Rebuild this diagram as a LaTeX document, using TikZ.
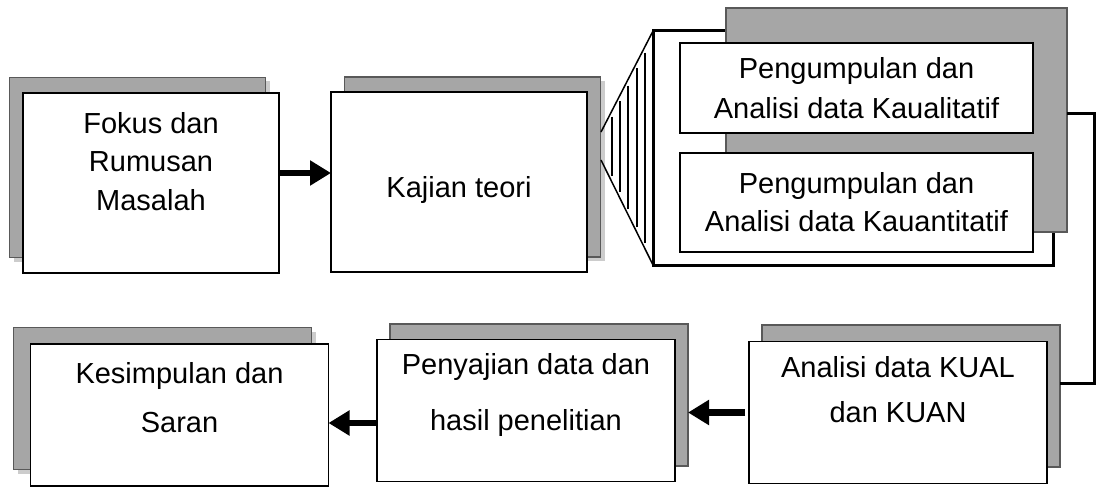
\documentclass[tikz,border=0pt]{standalone}
\usepackage{fontspec}
\setmainfont{Liberation Sans}
\usetikzlibrary{positioning,arrows.meta,calc}

\begin{document}
\begin{tikzpicture}[x=1pt, y=-1pt,
  box/.style={draw, fill=white, line width=1.6pt, inner sep=0pt, outer sep=0pt, align=center, font=\fontsize{29}{39}\selectfont},
  shd/.style={draw=black!65, fill=black!35, line width=1.3pt, inner sep=0pt, outer sep=0pt},
  lite/.style={fill=black!20, inner sep=0pt, outer sep=0pt},
  lbl/.style={inner sep=0pt, align=center, font=\fontsize{29}{#1}\selectfont},
  big/.style={minimum width=256pt, minimum height=180pt},
  wide/.style={minimum width=298pt, minimum height=142pt},
  arr/.style={-{Triangle[length=21pt,width=24pt]}, line width=6.5pt},
  link/.style={line width=3pt},
]
\useasboundingbox (0,0) rectangle (1103,487);

% top row
\node[lite, big] (fokus-l) at (141.5,171.5) {};
\node[shd, big] (fokus-s) at (137.5,167.5) {};
\node[box, big] (fokus) at (151,183) {};
\node[lbl=38.5, below=19pt of fokus.north] (fokus-t) {Fokus dan\\Rumusan\\Masalah};

\node[lite, big] (kajian-l) at (476.5,171) {};
\node[shd, big] (kajian-s) at (472.5,167) {};
\node[box, big] (kajian) at (459,182) {};
\node[lbl=38, below=84pt of kajian.north] (kajian-t) {Kajian teori};

% data collection block
\node[box, line width=3pt, minimum width=400pt, minimum height=234pt] (frame) at (853,148) {};
\node[shd, minimum width=341pt, minimum height=224pt] (kumpul) at (896.5,120) {};
\node[box, font=\fontsize{29}{40}\selectfont, minimum width=353pt, minimum height=90pt] (kual) at (856.5,88)
  {Pengumpulan dan\\Analisi data Kaualitatif};
\node[box, font=\fontsize{29}{38}\selectfont, minimum width=353pt, minimum height=99pt] (kuan) at (856.5,202.5)
  {Pengumpulan dan\\Analisi data Kauantitatif};

% fan between theory and data
\coordinate (fan-a) at (601,132);
\coordinate (fan-b) at (601,160);
\draw[line width=1.5pt] (frame.north west) -- (fan-a);
\draw[line width=1.5pt] (fan-b) -- (frame.south west);
\foreach \x in {612,620,628,637,645}{
  \pgfmathsetmacro\ytop{132-(\x-601)*101/52+6}
  \pgfmathsetmacro\ybot{160+(\x-601)*105/52-6}
  \draw[line width=1.5pt] (\x,\ytop) -- (\x,\ybot);
}

% bottom row
\node[lite, wide] (kesimpulan-l) at (166.5,402.5) {};
\node[shd, wide] (kesimpulan-s) at (162.5,398.5) {};
\node[box, wide] (kesimpulan) at (179.5,415) {};
\node[lbl=49, below=18pt of kesimpulan.north] (kesimpulan-t) {Kesimpulan dan\\Saran};

\node[shd, wide] (penyajian-s) at (539,395) {};
\node[box, wide] (penyajian) at (526,410.5) {};
\node[lbl=56, below=14pt of penyajian.north] (penyajian-t) {Penyajian data dan\\hasil penelitian};

\node[shd, wide] (analisi-s) at (911,396) {};
\node[box, wide] (analisi) at (898,412.5) {};
\node[lbl=45, below=15pt of analisi.north] (analisi-t) {Analisi data KUAL\\dan KUAN};

% connectors
\coordinate (p1) at ([yshift=10pt]fokus.east);
\draw[arr] (p1) -- (p1 -| kajian.west);
\draw[link] ([yshift=7pt]kumpul.east) -- ++(27,0) |- ([yshift=13pt]analisi-s.east);
\coordinate (p2) at ([xshift=-4pt]analisi.west);
\draw[arr] (p2) -- (p2 -| penyajian-s.east);
\coordinate (p3) at ([yshift=-12.5pt]penyajian.west);
\draw[arr] (p3) -- (p3 -| kesimpulan.east);
\end{tikzpicture}
\end{document}
